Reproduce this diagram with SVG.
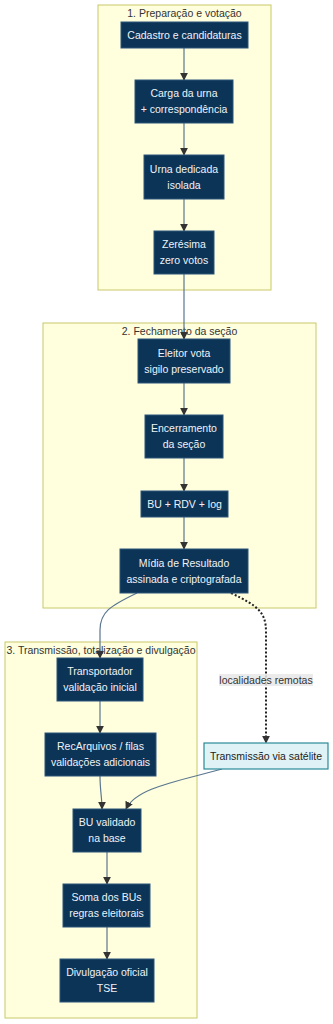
<svg xmlns="http://www.w3.org/2000/svg" width="333" height="1024" viewBox="0 0 333 1024">
<style>
.cl{fill:#ffffde;stroke:#c9c86a;stroke-width:1}
.ct{font-family:"Liberation Sans",Arial,sans-serif;font-size:10.5px;fill:#333;text-anchor:middle}
.n{fill:#0c3457;stroke:#2a5478;stroke-width:1}
.nt{font-family:"Liberation Sans",Arial,sans-serif;font-size:10.5px;fill:#eef3f8;text-anchor:middle}
.s{fill:#dff2f6;stroke:#2b8a98;stroke-width:1.2}
.st{font-family:"Liberation Sans",Arial,sans-serif;font-size:10.5px;fill:#222;text-anchor:middle}
.e{fill:none;stroke:#5a7690;stroke-width:1.2}
.d{fill:none;stroke:#222;stroke-width:2;stroke-dasharray:2 2}
.lbl{font-family:"Liberation Sans",Arial,sans-serif;font-size:10.5px;fill:#333;text-anchor:middle}
</style>
<defs>
<marker id="ah" viewBox="0 0 10 10" refX="9" refY="5" markerWidth="8" markerHeight="8" markerUnits="userSpaceOnUse" orient="auto">
<path d="M0,0 L10,5 L0,10 z" fill="#333"/>
</marker>
</defs>
<g id="clusters">
<rect class="cl" x="98" y="5" width="173" height="285"/>
<text class="ct" x="184.5" y="17">1. Preparação e votação</text>
<rect class="cl" x="43" y="323" width="273" height="285"/>
<text class="ct" x="179.5" y="335">2. Fechamento da seção</text>
<rect class="cl" x="5" y="642" width="192" height="376"/>
<text class="ct" x="101" y="654">3. Transmissão, totalização e divulgação</text>
</g>
<g id="connectors">
<path class="e" d="M184,48 V80" marker-end="url(#ah)"/>
<path class="e" d="M184,123 V155" marker-end="url(#ah)"/>
<path class="e" d="M184,199 V231" marker-end="url(#ah)"/>
<path class="e" d="M184,274 V339" marker-end="url(#ah)"/>
<path class="e" d="M184,383 V415" marker-end="url(#ah)"/>
<path class="e" d="M184,458 V491" marker-end="url(#ah)"/>
<path class="e" d="M184,517 V549" marker-end="url(#ah)"/>
<path class="e" d="M137,593 C110,606 100,612 100,630 V658" marker-end="url(#ah)"/>
<path class="d" d="M231,593 C258,606 266,612 266,632 V743" marker-end="url(#ah)"/>
<path class="e" d="M100,701 V733" marker-end="url(#ah)"/>
<path class="e" d="M100,776 C100,790 102,798 102,809" marker-end="url(#ah)"/>
<path class="e" d="M222,769 C175,782 136,788 126,809" marker-end="url(#ah)"/>
<path class="e" d="M107,852 V884" marker-end="url(#ah)"/>
<path class="e" d="M107,927 V959" marker-end="url(#ah)"/>
<rect x="219" y="674" width="94" height="12" fill="#e8e8e8" opacity="0.85"/>
<text class="lbl" x="266" y="683.5">localidades remotas</text>
</g>
<g id="n1"><rect class="n" x="121" y="22" width="127" height="26"/><text class="nt" x="184.5" y="38.7">Cadastro e candidaturas</text></g>
<g id="n2"><rect class="n" x="135" y="80" width="98" height="43"/><text class="nt" x="184" y="97.3">Carga da urna</text><text class="nt" x="184" y="113">+ correspondência</text></g>
<g id="n3"><rect class="n" x="144" y="155" width="80" height="44"/><text class="nt" x="184" y="172.8">Urna dedicada</text><text class="nt" x="184" y="188.5">isolada</text></g>
<g id="n4"><rect class="n" x="154" y="231" width="60" height="43"/><text class="nt" x="184" y="248.3">Zerésima</text><text class="nt" x="184" y="264">zero votos</text></g>
<g id="n5"><rect class="n" x="138" y="339" width="92" height="44"/><text class="nt" x="184" y="356.8">Eleitor vota</text><text class="nt" x="184" y="372.5">sigilo preservado</text></g>
<g id="n6"><rect class="n" x="145" y="415" width="78" height="43"/><text class="nt" x="184" y="432.3">Encerramento</text><text class="nt" x="184" y="448">da seção</text></g>
<g id="n7"><rect class="n" x="141" y="491" width="87" height="26"/><text class="nt" x="184.5" y="507.7">BU + RDV + log</text></g>
<g id="n8"><rect class="n" x="120" y="549" width="128" height="44"/><text class="nt" x="184" y="566.8">Mídia de Resultado</text><text class="nt" x="184" y="582.5">assinada e criptografada</text></g>
<g id="n9"><rect class="n" x="57" y="658" width="86" height="43"/><text class="nt" x="100" y="675.3">Transportador</text><text class="nt" x="100" y="691">validação inicial</text></g>
<g id="n10"><rect class="n" x="45" y="733" width="111" height="43"/><text class="nt" x="100.5" y="750.3">RecArquivos / filas</text><text class="nt" x="100.5" y="766">validações adicionais</text></g>
<g id="n11"><rect class="n" x="73" y="809" width="68" height="43"/><text class="nt" x="107" y="826.3">BU validado</text><text class="nt" x="107" y="842">na base</text></g>
<g id="n12"><rect class="n" x="63" y="884" width="87" height="43"/><text class="nt" x="106.5" y="901.3">Soma dos BUs</text><text class="nt" x="106.5" y="917">regras eleitorais</text></g>
<g id="n13"><rect class="n" x="60" y="959" width="94" height="43"/><text class="nt" x="107" y="976.3">Divulgação oficial</text><text class="nt" x="107" y="992">TSE</text></g>
<g id="n14"><rect class="s" x="204" y="743" width="124" height="26"/><text class="st" x="266" y="759.7">Transmissão via satélite</text></g>
</svg>
